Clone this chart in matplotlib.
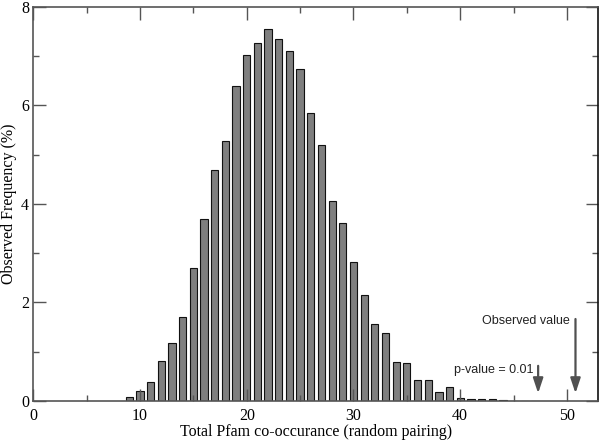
import matplotlib
matplotlib.use("Agg")
import matplotlib.pyplot as plt
from matplotlib.ticker import MultipleLocator

# Data
pairings = [9, 10, 11, 12, 13, 14, 15, 16, 17, 18, 19, 20, 21, 22, 23, 24, 25, 26, 27, 28,
            29, 30, 31, 32, 33, 34, 35, 36, 37, 38, 39, 40, 41, 42, 43, 44, 45, 46, 47]
frequency = [0.09, 0.21, 0.39, 0.82, 1.18, 1.71, 2.69, 3.69, 4.69, 5.27, 6.40, 7.03, 7.26, 7.54,
             7.34, 7.11, 6.74, 5.85, 5.20, 4.05, 3.61, 2.82, 2.15, 1.56, 1.37, 0.79, 0.77, 0.42,
             0.42, 0.19, 0.28, 0.06, 0.05, 0.05, 0.04, 0.03, 0.0, 0.01, 0.01]
pvalue_x = 47.3
observed_x = 50.8

fig = plt.figure(figsize=(6.0, 4.41), dpi=100)
ax = fig.add_axes([0.0555, 0.0907, 0.941, 0.894])

ax.bar(pairings, frequency, width=0.68, color="#7f7f7f", edgecolor="#111111", linewidth=0.8)

ax.set_xlim(0, 52.9)
ax.set_ylim(0, 8)
ax.xaxis.set_major_locator(MultipleLocator(10))
ax.xaxis.set_minor_locator(MultipleLocator(5))
ax.yaxis.set_major_locator(MultipleLocator(2))
ax.yaxis.set_minor_locator(MultipleLocator(1))
ax.tick_params(which="both", direction="in", top=True, right=True, color="#555555", width=1.0)
ax.tick_params(which="major", length=9)
ax.tick_params(axis="x", which="major", pad=5)
ax.tick_params(axis="y", which="major", pad=3)
ax.tick_params(which="minor", length=4.5)
for sp in ax.spines.values():
    sp.set_color("#555555")
    sp.set_linewidth(1.2)
ax.spines["right"].set_color("#111111")

serif = "Liberation Serif"
for lab in ax.get_xticklabels() + ax.get_yticklabels():
    lab.set_family(serif)
    lab.set_fontsize(11.5)
ax.set_xlabel("Total Pfam co-occurance (random pairing)", family=serif, fontsize=11.5, labelpad=0)
ax.set_ylabel("Observed Frequency (%)", family=serif, fontsize=11.5, labelpad=3)

arrowprops = dict(arrowstyle="-|>,head_length=0.9,head_width=0.3", color="#505050", lw=1.6)
ax.annotate("", xy=(observed_x, 0.1), xytext=(observed_x, 1.72), arrowprops=arrowprops)
ax.annotate("", xy=(pvalue_x, 0.1), xytext=(pvalue_x, 0.77), arrowprops=arrowprops)
ax.text(50.25, 1.62, "Observed value", family="Liberation Sans", fontsize=9,
        ha="right", va="center", color="#222222")
ax.text(46.85, 0.63, "p-value = 0.01", family="Liberation Sans", fontsize=9,
        ha="right", va="center", color="#222222")

fig.savefig("out.png", dpi=100)
